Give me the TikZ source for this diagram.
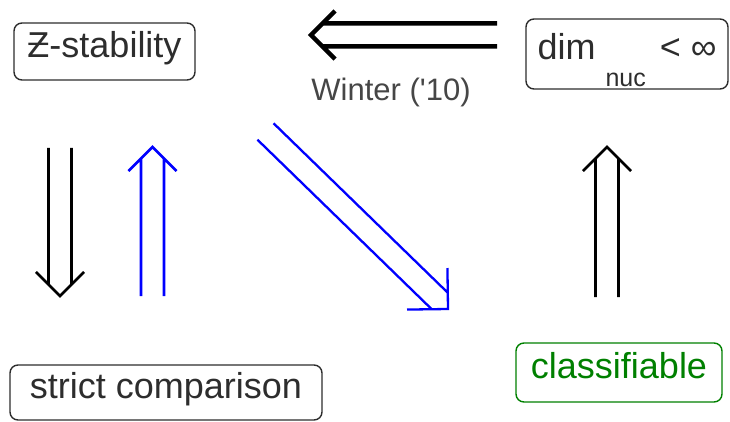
\documentclass[tikz,border=0pt]{standalone}
\usepackage{fontspec}
\setmainfont{Liberation Sans}
\usepackage{xcolor}
\usepackage{tikz}
\usetikzlibrary{calc}

\definecolor{boxgray}{RGB}{45,45,45}
\definecolor{labelgray}{RGB}{70,70,70}
\definecolor{classgreen}{RGB}{0,128,0}

\begin{document}
\begin{tikzpicture}[x=1pt, y=-1pt,
  box/.style={rectangle, draw=boxgray, text=boxgray, line width=1.4pt, rounded corners=8pt,
    inner sep=0pt, text height=24pt, text depth=12pt, font=\fontsize{36}{40}\selectfont},
  remark/.style={text=labelgray, inner sep=0pt, font=\fontsize{31}{34}\selectfont},
  implies/.style={line width=2.6pt, to path={
    let \p1=($(\tikztotarget)-(\tikztostart)$), \n1={atan2(\y1,\x1)} in
      ($(\tikztostart)+(\n1+90:11.5pt)$) -- ($(\tikztotarget)+(\n1+180:11.5pt)+(\n1+90:11.5pt)$)
      ($(\tikztostart)+(\n1-90:11.5pt)$) -- ($(\tikztotarget)+(\n1+180:11.5pt)+(\n1-90:11.5pt)$)
      ($(\tikztotarget)+(\n1+135:#1)$) -- (\tikztotarget) -- ($(\tikztotarget)+(\n1-135:#1)$)}},
  implies/.default=34pt]

  \useasboundingbox (0,0) rectangle (730,422);

  \node [box, minimum width=181pt, minimum height=57pt] (zstab) at (104.5,51.5) {Ƶ-stability};
  \node [box, minimum width=202pt, minimum height=70pt] (dimnuc) at (627,54)
    {dim \raisebox{-27pt}{\fontsize{25}{25}\selectfont nuc}\hspace{4pt} < ∞};
  \node [box, minimum width=206pt, minimum height=59pt, draw=classgreen, text=classgreen] (classif) at (619,372.5) {classifiable};
  \node [box, minimum width=312pt, minimum height=55pt] (strict) at (166,392.5) {strict comparison};
  \node [remark, anchor=base] (winter) at (391,101) {Winter (\textquotesingle 10)};

  % arrow ends
  \coordinate (wstart) at (497,35);
  \coordinate (wtip) at (311,35);
  \coordinate (dstart) at (60,148);
  \coordinate (dtip) at (60,296);
  \coordinate (ustart) at (152.5,296);
  \coordinate (utip) at (152.5,147);
  \coordinate (cstart) at (607,297);
  \coordinate (ctip) at (607,147);
  \coordinate (sstart) at (265.5,131.5);
  \coordinate (stip) at (448,309);

  \draw [implies, line width=4.5pt] (wstart) to (wtip);
  \draw [implies] (dstart) to (dtip);
  \draw [implies, draw=blue] (ustart) to (utip);
  \draw [implies] (cstart) to (ctip);
  \draw [implies=41pt, draw=blue, line width=2.3pt] (sstart) to (stip);
\end{tikzpicture}
\end{document}
